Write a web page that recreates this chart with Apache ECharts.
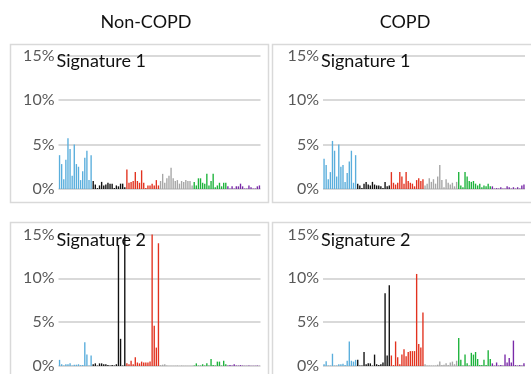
<!DOCTYPE html>
<html>
<head>
<meta charset="utf-8">
<script src="https://cdn.jsdelivr.net/npm/echarts@6/dist/echarts.min.js"></script>
<style>
html,body{margin:0;padding:0;background:#fff;}
#chart{width:531px;height:374px;}
</style>
</head>
<body>
<div id="chart"></div>
<script>
// Mutation classes (16 trinucleotide contexts each)
var mutationTypes = ['C>A', 'C>G', 'C>T', 'T>A', 'T>C', 'T>G'];
var bases = ['A', 'C', 'G', 'T'];
var columnTitles = ['Non-COPD', 'COPD'];
var rowTitles = ['Signature 1', 'Signature 2'];
var yTicks = [0, 5, 10, 15];

// Values in percent, 96 contexts in order C>A, C>G, C>T, T>A, T>C, T>G
var nonCopdSig1 = [
  3.8, 2.8, 1.1, 3.3, 5.7, 4.5, 1.5, 5.0, 2.8, 2.5, 1.0, 2.0, 3.5, 4.3, 1.0, 3.8,
  0.9, 0.5, 0.1, 0.4, 0.8, 0.4, 0.5, 0.7, 0.6, 0.6, 0.1, 0.4, 0.3, 0.6, 0.6, 0.2,
  2.2, 0.7, 0.8, 0.9, 1.9, 0.9, 0.7, 2.1, 0.7, 0.1, 0.4, 0.4, 0.6, 0.4, 1.0, 0.4,
  0.9, 1.7, 0.7, 1.2, 1.5, 2.4, 1.2, 0.9, 1.0, 0.6, 0.9, 0.8, 1.0, 0.9, 0.9, 0.4,
  0.8, 0.4, 1.2, 1.2, 0.7, 0.6, 1.7, 0.4, 0.9, 1.7, 0.2, 0.4, 0.7, 0.3, 0.7, 0.7,
  0.3, 0.05, 0.3, 0.05, 0.3, 0.3, 0.6, 0.3, 0.05, 0.05, 0.4, 0.2, 0.05, 0.05, 0.3, 0.4
];
var copdSig1 = [
  3.4, 2.7, 1.1, 1.9, 5.4, 4.3, 1.4, 5.0, 2.5, 2.7, 0.8, 1.8, 3.1, 4.3, 0.7, 3.8,
  0.6, 0.4, 0.1, 0.6, 0.8, 0.5, 0.4, 0.8, 0.5, 0.4, 0.4, 0.3, 0.1, 0.8, 0.3, 0.4,
  1.9, 0.7, 0.5, 0.7, 1.9, 1.4, 0.6, 1.9, 0.9, 0.7, 0.6, 0.3, 1.0, 1.2, 0.9, 1.1,
  0.4, 0.6, 1.2, 0.8, 1.1, 0.6, 1.4, 2.7, 1.0, 0.2, 1.1, 0.7, 0.5, 0.7, 0.3, 0.8,
  1.9, 0.4, 0.2, 1.9, 1.4, 0.9, 0.8, 0.9, 0.6, 0.4, 0.6, 0.2, 0.4, 0.3, 0.6, 0.3,
  0.3, 0.05, 0.1, 0.05, 0.2, 0.05, 0.05, 0.3, 0.2, 0.05, 0.2, 0.05, 0.2, 0.05, 0.4, 0.5
];
var nonCopdSig2 = [
  0.7, 0.2, 0.05, 0.2, 0.2, 0.3, 0.05, 0.15, 0.15, 0.2, 0.1, 0.1, 2.7, 1.3, 0.05, 1.2,
  0.2, 0.3, 0.05, 0.3, 0.3, 0.2, 0.2, 0.1, 0.05, 0.1, 0.05, 0.2, 13.8, 3.1, 0.05, 16.0,
  0.3, 0.2, 0.6, 0.2, 1.0, 0.4, 0.3, 0.5, 0.4, 0.4, 0.4, 0.5, 16.0, 4.6, 2.1, 14.0,
  0.1, 0.15, 0.2, 0.05, 0.02, 0.02, 0.02, 0.02, 0.05, 0.02, 0.05, 0.02, 0.02, 0.02, 0.02, 0.02,
  0.05, 0.3, 0.05, 0.05, 0.2, 0.05, 0.3, 0.05, 0.8, 0.1, 0.05, 0.5, 0.5, 0.05, 0.6, 0.2,
  0.05, 0.1, 0.05, 0.2, 0.05, 0.05, 0.1, 0.05, 0.02, 0.02, 0.05, 0.02, 0.02, 0.02, 0.05, 0.02
];
var copdSig2 = [
  0.2, 0.55, 0.05, 0.05, 1.4, 0.05, 0.05, 0.2, 0.2, 0.25, 0.1, 0.6, 2.8, 0.6, 0.5, 0.7,
  0.7, 0.05, 0.05, 1.6, 0.2, 0.3, 0.3, 0.05, 1.3, 0.2, 0.1, 0.2, 0.4, 8.3, 1.2, 9.2,
  1.2, 0.1, 2.8, 1.0, 0.2, 1.3, 1.9, 1.1, 1.6, 1.7, 1.7, 1.7, 10.5, 2.5, 2.1, 6.1,
  0.2, 0.05, 0.05, 0.05, 0.05, 0.05, 0.15, 0.5, 0.1, 0.15, 0.3, 0.1, 0.4, 0.5, 0.2, 0.6,
  3.2, 0.7, 0.05, 1.3, 0.3, 0.05, 1.5, 1.3, 1.6, 0.8, 0.1, 0.1, 0.7, 0.1, 1.8, 0.8,
  0.3, 0.05, 0.4, 0.05, 0.1, 0.05, 1.3, 0.4, 0.9, 0.4, 2.9, 0.1, 0.05, 0.1, 0.05, 0.3
];

var typeColors = ['#5aaedc', '#111111', '#e2321f', '#a6a6a6', '#1db33b', '#7a2aa8'];

// Build 96 category names like A[C>A]A
var categories = [];
mutationTypes.forEach(function (m) {
  bases.forEach(function (b5) {
    bases.forEach(function (b3) { categories.push(b5 + '[' + m + ']' + b3); });
  });
});

var panels = [
  { data: nonCopdSig1, left: 58.5, top: 55.5, box: [10.5, 44.5, 258, 158] },
  { data: copdSig1, left: 323, top: 55.5, box: [272.5, 44.5, 270, 158] },
  { data: nonCopdSig2, left: 58.5, top: 234.5, box: [10.5, 222.5, 258, 200] },
  { data: copdSig2, left: 323, top: 234.5, box: [272.5, 222.5, 270, 200] }
];
var plotW = 202, plotH = 133.5;
var FONT = 'Lato';

var option = {
  animation: false,
  backgroundColor: '#fff',
  grid: [], xAxis: [], yAxis: [], series: [], title: [],
  graphic: []
};

panels.forEach(function (p, i) {
  option.graphic.push({
    type: 'rect', z: 0, silent: true,
    shape: { x: p.box[0], y: p.box[1], width: p.box[2], height: p.box[3] },
    style: { fill: 'none', stroke: '#d9d9d9', lineWidth: 1.5 }
  });
  option.grid.push({ left: p.left, top: p.top, width: plotW, height: plotH, containLabel: false });
  option.xAxis.push({
    type: 'category', gridIndex: i, data: categories,
    axisLine: { show: false }, axisTick: { show: false }, axisLabel: { show: false },
    splitLine: { show: false }
  });
  option.yAxis.push({
    type: 'value', gridIndex: i, min: yTicks[0], max: yTicks[yTicks.length - 1], interval: 5,
    axisLine: { show: false }, axisTick: { show: false },
    axisLabel: { formatter: '{value}%', color: '#595959', fontFamily: FONT, fontSize: 16, margin: 4 },
    splitLine: { lineStyle: { color: '#d9d9d9', width: 2 } }
  });
  option.series.push({
    type: 'bar', xAxisIndex: i, yAxisIndex: i, data: p.data,
    barCategoryGap: '35%', clip: true, z: 3,
    itemStyle: {
      color: function (params) { return typeColors[Math.floor(params.dataIndex / 16)]; }
    }
  });
  option.title.push({
    text: rowTitles[Math.floor(i / 2)],
    left: p.left - 2, top: p.top - 3, padding: 0,
    textStyle: { fontFamily: FONT, fontSize: 18, fontWeight: 'normal', color: '#111' }
  });
});

option.title.push({
  text: columnTitles[0], left: 146, top: 13, padding: 0, textAlign: 'center',
  textStyle: { fontFamily: FONT, fontSize: 18, fontWeight: 'normal', color: '#111' }
});
option.title.push({
  text: columnTitles[1], left: 405, top: 13, padding: 0, textAlign: 'center',
  textStyle: { fontFamily: FONT, fontSize: 18, fontWeight: 'normal', color: '#111' }
});

var chart = echarts.init(document.getElementById('chart'), null, { renderer: 'canvas' });
chart.setOption(option);
</script>
</body>
</html>
